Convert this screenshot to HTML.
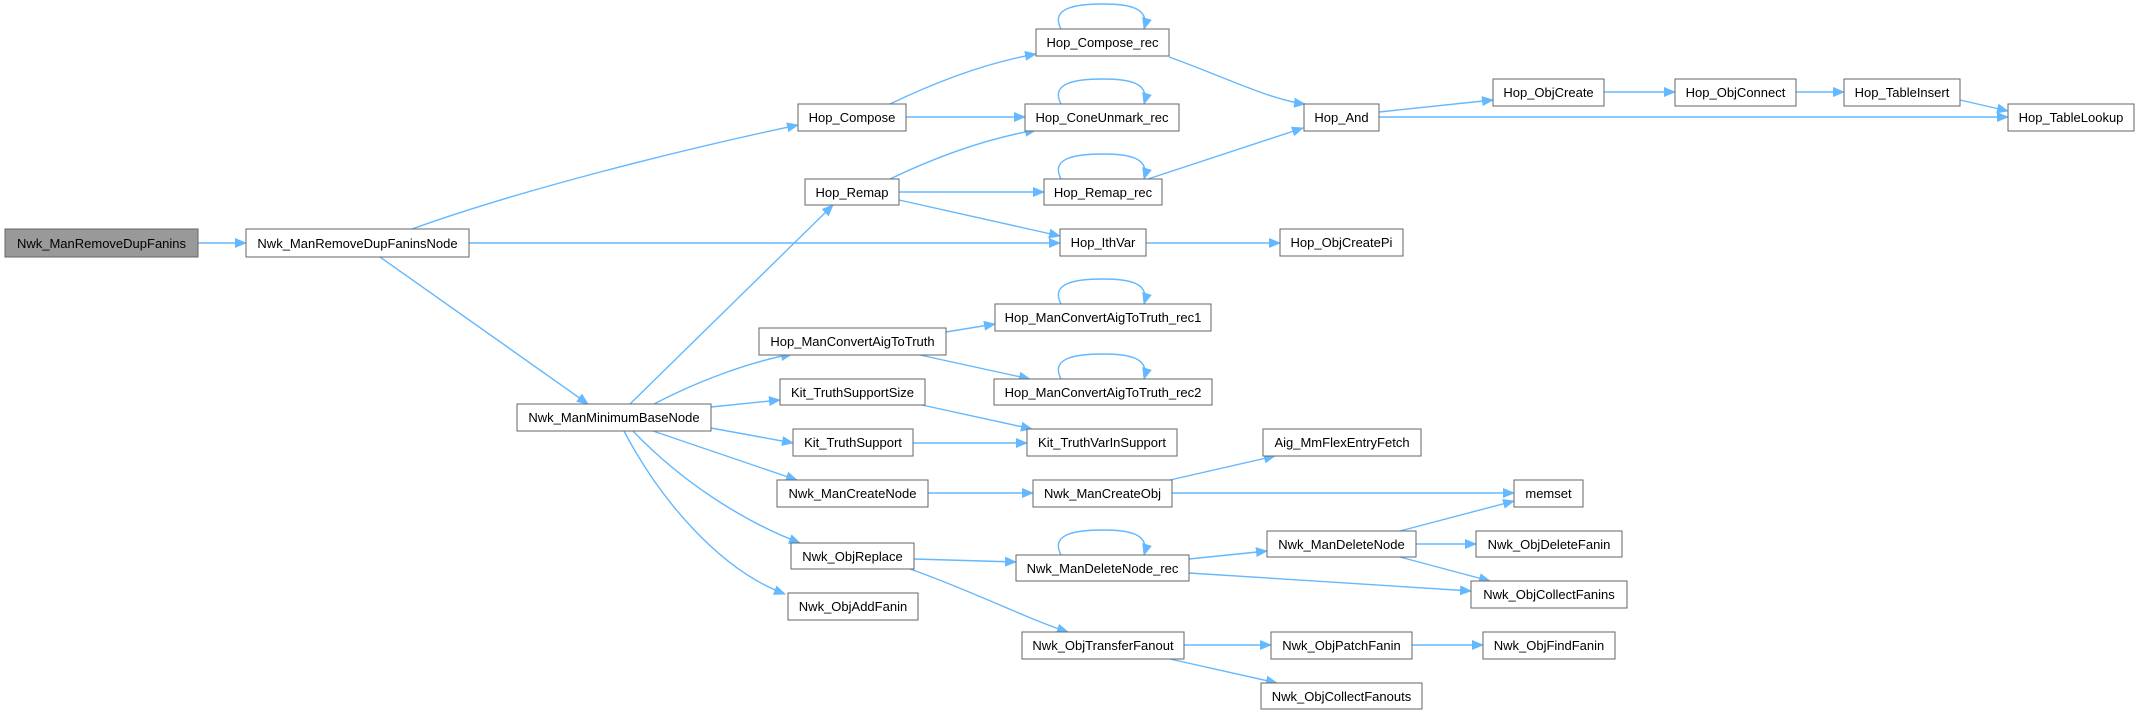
<!DOCTYPE html>
<html><head><meta charset="utf-8"><style>
html,body{margin:0;padding:0;background:#fff;}
svg{display:block;}
text{font-family:"Liberation Sans",Arial,sans-serif;font-size:13px;fill:#000;}
</style></head><body>
<svg width="2139" height="715" viewBox="0 0 2139 715" xmlns="http://www.w3.org/2000/svg">
<defs>
<marker id="a" markerWidth="12" markerHeight="10" refX="11" refY="5" orient="auto" markerUnits="userSpaceOnUse">
<path d="M0,0 L12,5 L0,10 Z" fill="#63b8ff"/>
</marker>
</defs>
<g fill="none" stroke="#63b8ff" stroke-width="1.4" marker-end="url(#a)">
<path d="M198,243 L246,243"/>
<path d="M412,229 C520,190 680,150 798,125"/>
<path d="M469,243 L1060,243"/>
<path d="M380,257 L588,404"/>
<path d="M890,104 C940,80 990,62 1036,54"/>
<path d="M906,117 L1025,117"/>
<path d="M890,179 C940,155 990,138 1036,130"/>
<path d="M899,192 L1044,192"/>
<path d="M899,200 L1060,236"/>
<path d="M1169,57 C1220,75 1270,100 1305,104"/>
<path d="M1148,179 L1303,128"/>
<path d="M1379,112 L1493,100"/>
<path d="M1379,117 L2008,117"/>
<path d="M1604,92 L1675,92"/>
<path d="M1796,92 L1844,92"/>
<path d="M1960,100 L2008,111"/>
<path d="M1146,243 L1280,243"/>
<path d="M630,404 L833,205"/>
<path d="M654,404 C700,380 750,362 792,354"/>
<path d="M946,332 L995,324"/>
<path d="M920,355 L1030,379"/>
<path d="M711,407 L780,400"/>
<path d="M711,428 L793,443"/>
<path d="M922,405 L1032,429"/>
<path d="M913,443 L1027,443"/>
<path d="M653,431 L797,480"/>
<path d="M633,431 C680,480 740,520 800,543"/>
<path d="M624,431 C660,500 720,570 785,594"/>
<path d="M928,493 L1033,493"/>
<path d="M1170,480 L1275,456"/>
<path d="M1172,493 L1514,493"/>
<path d="M914,559 L1016,562"/>
<path d="M910,569 C970,590 1030,620 1068,632"/>
<path d="M1189,559 L1267,551"/>
<path d="M1189,573 L1471,591"/>
<path d="M1400,531 L1514,501"/>
<path d="M1416,544 L1476,544"/>
<path d="M1400,557 L1490,581"/>
<path d="M1184,645 L1271,645"/>
<path d="M1412,645 L1483,645"/>
<path d="M1170,659 L1277,683"/>
<path d="M1061,29 C1050,8 1075,4 1103,4 C1130,4 1150,8 1144,29"/>
<path d="M1061,104 C1050,83 1075,79 1103,79 C1130,79 1150,83 1144,104"/>
<path d="M1061,179 C1050,158 1075,154 1103,154 C1130,154 1150,158 1144,179"/>
<path d="M1061,304 C1050,283 1075,279 1103,279 C1130,279 1150,283 1144,304"/>
<path d="M1061,379 C1050,358 1075,354 1103,354 C1130,354 1150,358 1144,379"/>
<path d="M1061,555 C1050,534 1075,530 1103,530 C1130,530 1150,534 1144,555"/>
</g>
<g stroke="#666" stroke-width="1" fill="#fff">
<rect x="5" y="229" width="193" height="28" fill="#999"/>
<rect x="246" y="229" width="223" height="28"/>
<rect x="798" y="104" width="108" height="27"/>
<rect x="805" y="179" width="94" height="26"/>
<rect x="759" y="328" width="187" height="27"/>
<rect x="1036" y="29" width="133" height="27"/>
<rect x="1025" y="104" width="154" height="27"/>
<rect x="1044" y="179" width="118" height="26"/>
<rect x="1060" y="229" width="86" height="27"/>
<rect x="995" y="304" width="216" height="27"/>
<rect x="1280" y="229" width="123" height="27"/>
<rect x="1304" y="104" width="75" height="27"/>
<rect x="1493" y="79" width="111" height="27"/>
<rect x="1675" y="79" width="121" height="27"/>
<rect x="1844" y="79" width="116" height="27"/>
<rect x="2008" y="104" width="126" height="27"/>
<rect x="994" y="379" width="218" height="26"/>
<rect x="517" y="404" width="194" height="27"/>
<rect x="780" y="379" width="145" height="26"/>
<rect x="793" y="429" width="120" height="27"/>
<rect x="1027" y="429" width="150" height="27"/>
<rect x="1263" y="429" width="158" height="27"/>
<rect x="777" y="480" width="151" height="27"/>
<rect x="1033" y="480" width="139" height="27"/>
<rect x="1514" y="480" width="69" height="27"/>
<rect x="1267" y="531" width="149" height="26"/>
<rect x="1476" y="531" width="146" height="26"/>
<rect x="791" y="543" width="123" height="26"/>
<rect x="1016" y="555" width="173" height="26"/>
<rect x="1471" y="581" width="156" height="27"/>
<rect x="788" y="593" width="130" height="27"/>
<rect x="1022" y="632" width="162" height="27"/>
<rect x="1271" y="632" width="141" height="27"/>
<rect x="1483" y="632" width="132" height="27"/>
<rect x="1261" y="683" width="161" height="26"/>
</g>
<g text-anchor="middle">
<text x="101.5" y="248">Nwk_ManRemoveDupFanins</text>
<text x="357.5" y="248">Nwk_ManRemoveDupFaninsNode</text>
<text x="852" y="122">Hop_Compose</text>
<text x="852" y="197">Hop_Remap</text>
<text x="852.5" y="346">Hop_ManConvertAigToTruth</text>
<text x="1102.5" y="47">Hop_Compose_rec</text>
<text x="1102" y="122">Hop_ConeUnmark_rec</text>
<text x="1103" y="197">Hop_Remap_rec</text>
<text x="1103" y="247">Hop_IthVar</text>
<text x="1103" y="322">Hop_ManConvertAigToTruth_rec1</text>
<text x="1341.5" y="247">Hop_ObjCreatePi</text>
<text x="1341.5" y="122">Hop_And</text>
<text x="1548.5" y="97">Hop_ObjCreate</text>
<text x="1735.5" y="97">Hop_ObjConnect</text>
<text x="1902" y="97">Hop_TableInsert</text>
<text x="2071" y="122">Hop_TableLookup</text>
<text x="1103" y="397">Hop_ManConvertAigToTruth_rec2</text>
<text x="614" y="422">Nwk_ManMinimumBaseNode</text>
<text x="852.5" y="397">Kit_TruthSupportSize</text>
<text x="853" y="447">Kit_TruthSupport</text>
<text x="1102" y="447">Kit_TruthVarInSupport</text>
<text x="1342" y="447">Aig_MmFlexEntryFetch</text>
<text x="852.5" y="498">Nwk_ManCreateNode</text>
<text x="1102.5" y="498">Nwk_ManCreateObj</text>
<text x="1548.5" y="498">memset</text>
<text x="1341.5" y="549">Nwk_ManDeleteNode</text>
<text x="1549" y="549">Nwk_ObjDeleteFanin</text>
<text x="852.5" y="561">Nwk_ObjReplace</text>
<text x="1102.5" y="573">Nwk_ManDeleteNode_rec</text>
<text x="1549" y="599">Nwk_ObjCollectFanins</text>
<text x="853" y="611">Nwk_ObjAddFanin</text>
<text x="1103" y="650">Nwk_ObjTransferFanout</text>
<text x="1341.5" y="650">Nwk_ObjPatchFanin</text>
<text x="1549" y="650">Nwk_ObjFindFanin</text>
<text x="1341.5" y="701">Nwk_ObjCollectFanouts</text>
</g>
</svg>
</body></html>
